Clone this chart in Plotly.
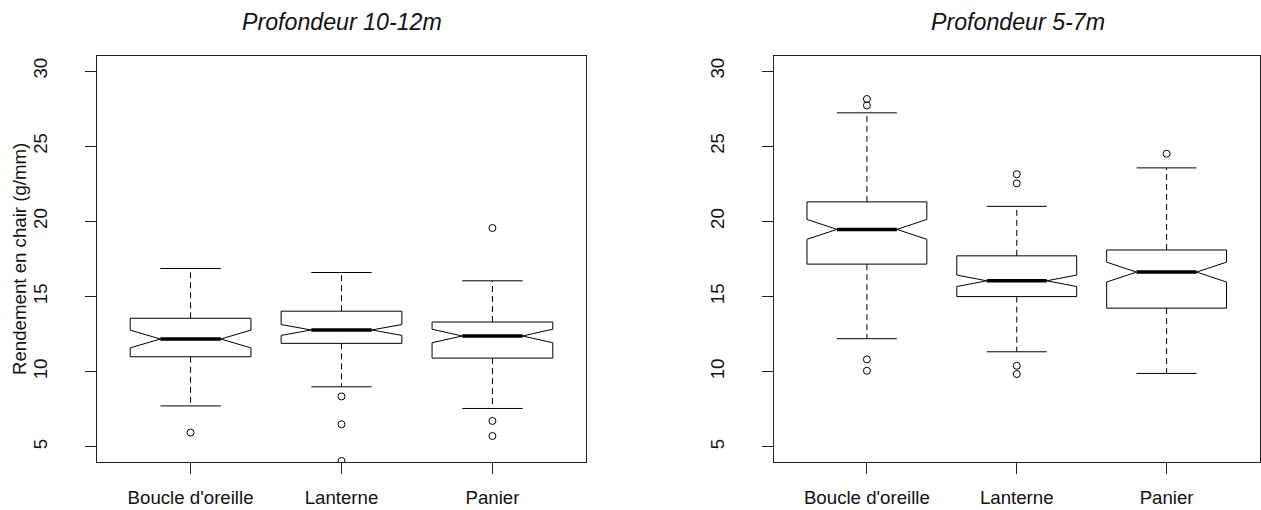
import plotly.graph_objects as go

# ---------------- data ----------------
categories = ["Boucle d'oreille", "Lanterne", "Panier"]
positions = [1, 2, 3]

# Profondeur 10-12m
q1_deep = [11.00, 11.89, 10.91]
med_deep = [12.18, 12.78, 12.38]
q3_deep = [13.56, 14.03, 13.31]
lo_deep = [7.73, 9.00, 7.56]
hi_deep = [16.87, 16.60, 16.05]
notch_deep = [0.59, 0.36, 0.45]
out_deep = [[5.96], [8.36, 6.51, 4.07], [19.56, 6.73, 5.73]]

# Profondeur 5-7m
q1_shal = [17.16, 15.00, 14.23]
med_shal = [19.47, 16.05, 16.63]
q3_shal = [21.30, 17.71, 18.10]
lo_shal = [12.20, 11.33, 9.89]
hi_shal = [27.22, 21.00, 23.56]
notch_shal = [0.66, 0.38, 0.66]
out_shal = [[28.14, 27.71, 10.82, 10.07], [23.14, 22.53, 10.40, 9.85], [24.50]]

titles = ["Profondeur 10-12m", "Profondeur 5-7m"]
y_title = "Rendement en chair (g/mm)"
y_ticks = [5, 10, 15, 20, 25, 30]

# ---------------- style ----------------
W, H = 1261, 510
FONT = "Liberation Sans, Arial, sans-serif"
FS = 18.67
BOX_W = 0.8
HALF_IN = BOX_W / 4  # median/caps half-length

fig = go.Figure()


def add_panel(xa, ya, q1, med, q3, lo, hi, notch, outs):
    fig.add_trace(go.Box(
        x=positions, q1=q1, median=med, q3=q3,
        lowerfence=q1, upperfence=q3, notchspan=notch,
        notched=True, notchwidth=0.25, width=BOX_W, whiskerwidth=0,
        fillcolor="white", line=dict(color="black", width=1),
        boxpoints=False, xaxis=xa, yaxis=ya, showlegend=False,
        hoverinfo="skip",
    ))
    wx, wy, cx, cy, mx, my = [], [], [], [], [], []
    for p, a, b, c, d, m in zip(positions, q1, q3, lo, hi, med):
        wx += [p, p, None, p, p, None]
        wy += [b, d, None, a, c, None]
        cx += [p - HALF_IN, p + HALF_IN, None, p - HALF_IN, p + HALF_IN, None]
        cy += [d, d, None, c, c, None]
        mx += [p - HALF_IN, p + HALF_IN, None]
        my += [m, m, None]
    fig.add_trace(go.Scatter(x=wx, y=wy, mode="lines", xaxis=xa, yaxis=ya,
                             line=dict(color="black", width=1, dash="6px,4px"),
                             showlegend=False, hoverinfo="skip"))
    fig.add_trace(go.Scatter(x=cx, y=cy, mode="lines", xaxis=xa, yaxis=ya,
                             line=dict(color="black", width=1),
                             showlegend=False, hoverinfo="skip"))
    fig.add_trace(go.Scatter(x=mx, y=my, mode="lines", xaxis=xa, yaxis=ya,
                             line=dict(color="black", width=3.5),
                             showlegend=False, hoverinfo="skip"))
    ox, oy = [], []
    for p, vals in zip(positions, outs):
        ox += [p] * len(vals)
        oy += vals
    fig.add_trace(go.Scatter(x=ox, y=oy, mode="markers", xaxis=xa, yaxis=ya,
                             marker=dict(symbol="circle-open", size=7,
                                         color="black", line=dict(width=1)),
                             showlegend=False, hoverinfo="skip"))


add_panel("x", "y", q1_deep, med_deep, q3_deep, lo_deep, hi_deep, notch_deep, out_deep)
add_panel("x2", "y2", q1_shal, med_shal, q3_shal, lo_shal, hi_shal, notch_shal, out_shal)

left_dom = [97 / W, 586 / W]
right_dom = [774 / W, 1259.5 / W]
y_dom = [(H - 462) / H, (H - 56) / H]

axis_common = dict(showline=True, mirror=True, linecolor="#222222", linewidth=1,
                   showgrid=False, zeroline=False, ticks="outside", ticklen=11,
                   tickcolor="#222222", tickwidth=1,
                   tickfont=dict(family=FONT, size=FS, color="#111111"))
xcommon = dict(axis_common, range=[0.38, 3.62], tickvals=positions,
               ticktext=categories, ticklabelstandoff=8)
ycommon = dict(axis_common, range=[4, 31], tickvals=y_ticks, tickangle=-90,
               ticklabelstandoff=31)

fig.update_layout(
    width=W, height=H,
    margin=dict(l=0, r=0, t=0, b=0),
    paper_bgcolor="white", plot_bgcolor="white",
    xaxis=dict(xcommon, domain=left_dom, anchor="y"),
    yaxis=dict(ycommon, domain=y_dom, anchor="x"),
    xaxis2=dict(xcommon, domain=right_dom, anchor="y2"),
    yaxis2=dict(ycommon, domain=y_dom, anchor="x2"),
    font=dict(family=FONT, size=FS, color="#111111"),
)

title_y = (H - 22) / H
fig.add_annotation(text="<i>" + titles[0] + "</i>", xref="paper", yref="paper",
                   x=(left_dom[0] + left_dom[1]) / 2, y=title_y,
                   xanchor="center", yanchor="middle", showarrow=False,
                   font=dict(family=FONT, size=23.2, color="#111111"))
fig.add_annotation(text="<i>" + titles[1] + "</i>", xref="paper", yref="paper",
                   x=(right_dom[0] + 1.0) / 2, y=title_y,
                   xanchor="center", yanchor="middle", showarrow=False,
                   font=dict(family=FONT, size=23.2, color="#111111"))
fig.add_annotation(text=y_title, xref="paper", yref="paper",
                   x=19 / W, y=(y_dom[0] + y_dom[1]) / 2, textangle=-90,
                   xanchor="center", yanchor="middle", showarrow=False,
                   font=dict(family=FONT, size=FS, color="#111111"))

fig.write_html("out.html")
